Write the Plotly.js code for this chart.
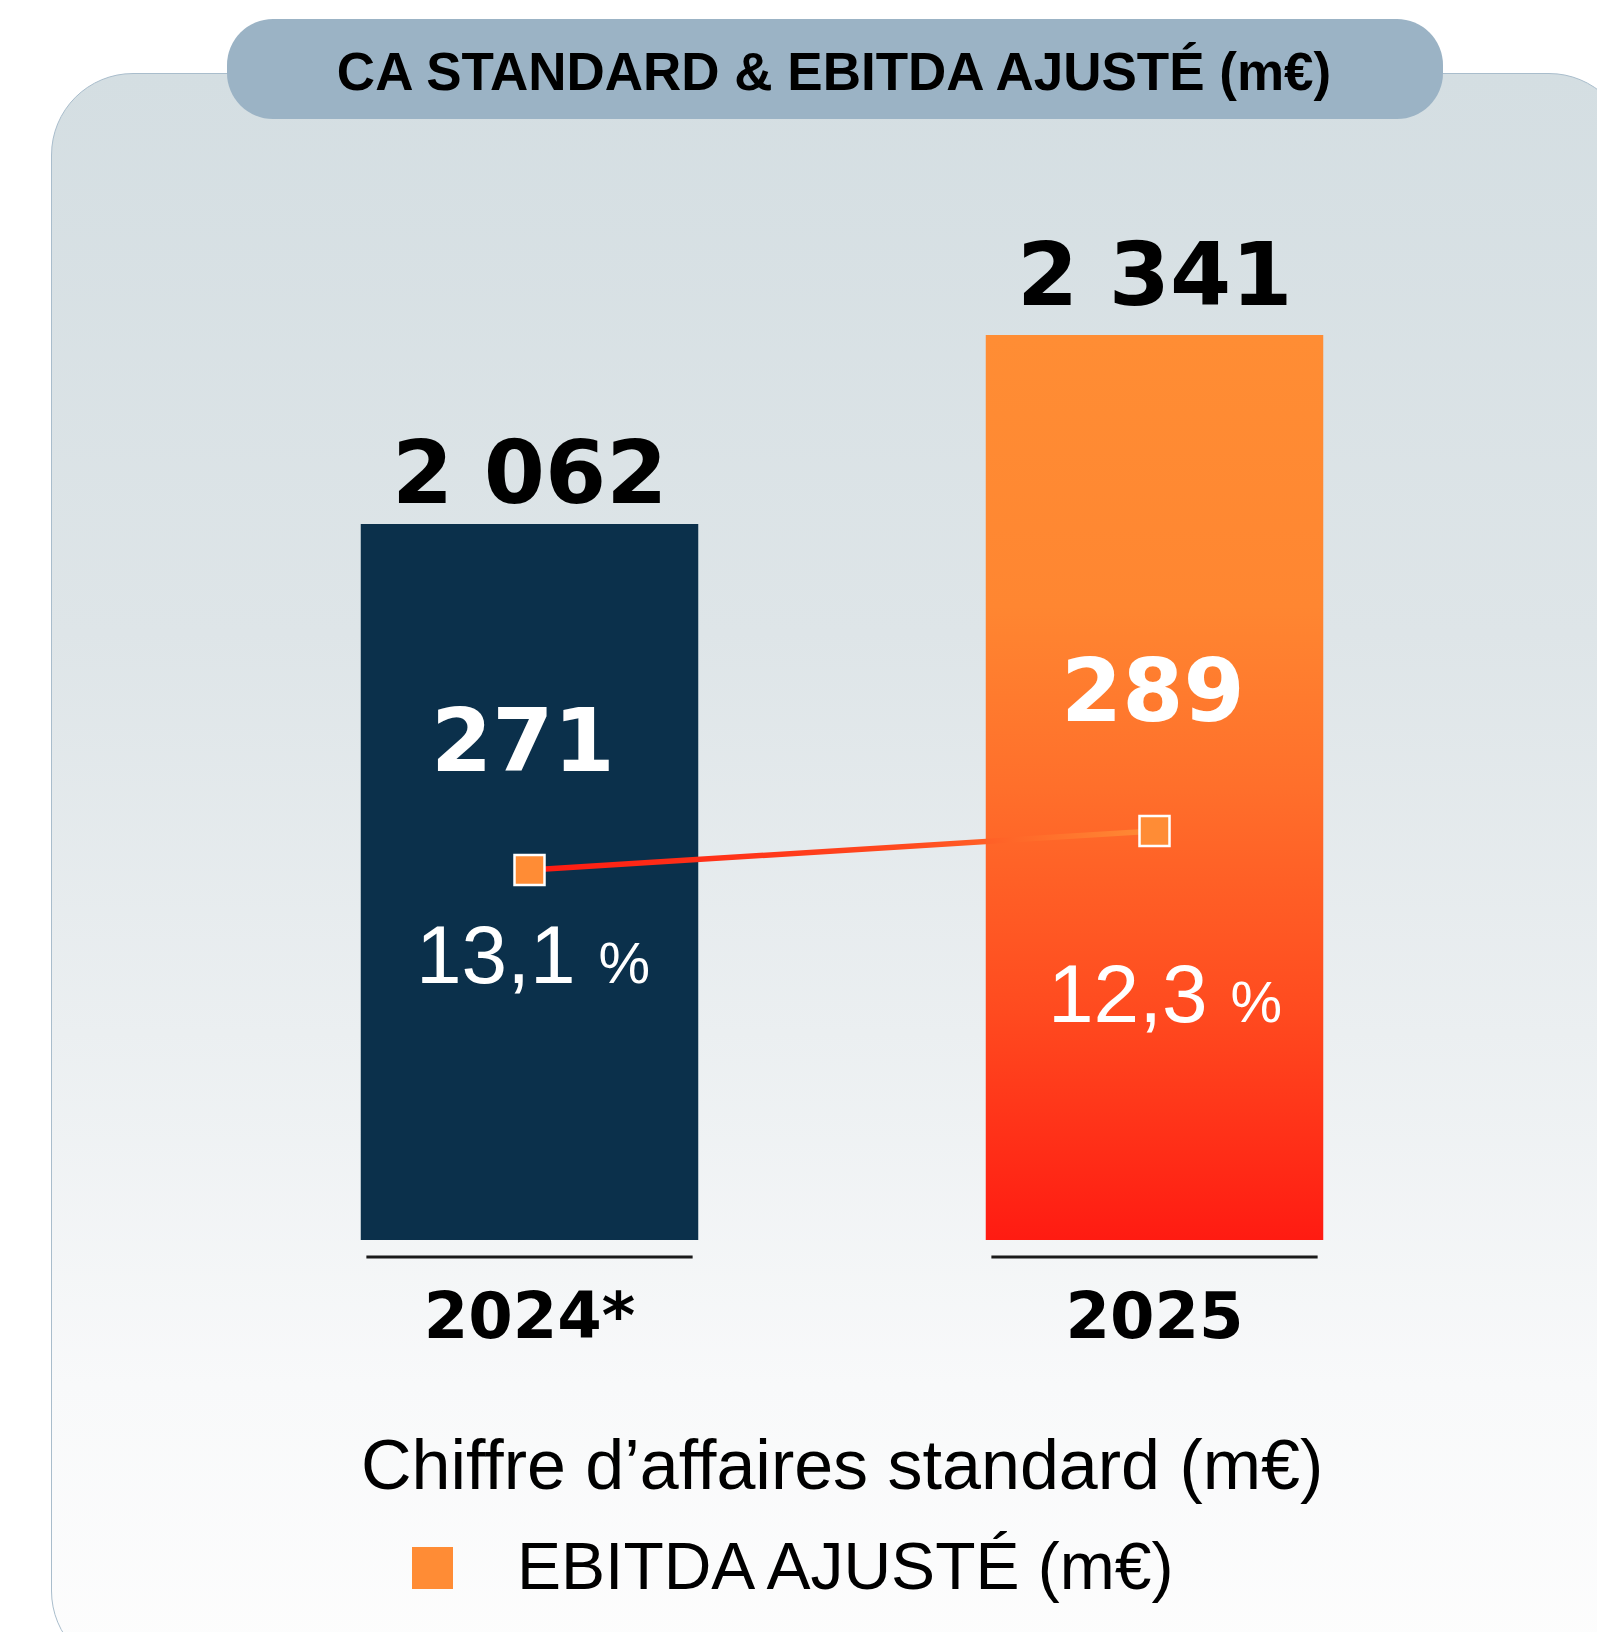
<!DOCTYPE html>
<html>
<head>
<meta charset="utf-8">
<script src="https://cdn.plot.ly/plotly-3.0.1.min.js"></script>
<style>
html,body{margin:0;padding:0;background:#ffffff;}
#wrap{position:relative;width:1597px;height:1632px;overflow:hidden;background:#ffffff;}
#panel{position:absolute;left:51px;top:73px;width:1580px;height:1600px;box-sizing:border-box;
  border:1.5px solid #a9bdcc;border-radius:82px;
  background:linear-gradient(to bottom,#d4dee2 0%,#dee5e8 35%,#ebeff1 60%,#f8f9fa 82%,#fdfdfd 100%);}
#pill{position:absolute;left:227px;top:19px;width:1216px;height:100px;border-radius:46px;background:#9bb3c5;}
#chart{position:absolute;left:0;top:0;width:1597px;height:1632px;}
</style>
</head>
<body>
<div id="wrap">
  <div id="panel"></div>
  <div id="pill"></div>
  <div id="chart"></div>
</div>
<script>
// ---------------- data ----------------
const categories = ['2024*', '2025'];
const revenue = [2062, 2341];          // Chiffre d'affaires standard (m€)
const ebitda = [271, 289];             // EBITDA ajusté (m€)
const margin = [13.1, 12.3];           // marge EBITDA (%)
const titleText = 'CA STANDARD & EBITDA AJUSTÉ (m€)';
const legendLabels = ['Chiffre d’affaires standard (m€)', 'EBITDA AJUSTÉ (m€)'];

// ---------------- styles ----------------
const NAVY = '#0b304b';
const ORANGE = '#ff8c35';
const barColors = [NAVY, '#ff7a2d'];
const barGradStops = [[0, '#ff8d34'], [0.3, '#ff8631'], [0.5, '#ff6f2b'], [0.75, '#ff4a1f'], [1, '#ff1b12']];
const lineGradStops = [[0, '#ff1a12'], [0.6, '#ff4a1f'], [1, '#ff8c35']];
const BOLD_NUM = 'DejaVu Sans, sans-serif';
const SANS = 'Liberation Sans, Arial, sans-serif';
const valueLabelShift = [52, 61];     // px above bar top
const ebitdaLabelShift = [129, 140];  // px above marker
const ebitdaLabelX = [-7, -2];
const marginLabelShift = [-85, -163]; // px below marker
const marginLabelX = [3, 10];

// plot geometry (pixels)
const W = 1597, H = 1632, ML = 217, MR = 130, MT = 200, MB = 392;
const PW = W - ML - MR, PH = H - MT - MB;
const px2x = p => (p - ML) / PW;
const px2y = p => (H - MB - p) / PH;

const fmtThousands = v => String(v).replace(/\B(?=(\d{3})+(?!\d))/g, '\u00a0');
const fmtPct = v => v.toFixed(1).replace('.', ',');

const barTrace = {
  type: 'bar',
  name: legendLabels[0],
  x: categories,
  y: revenue,
  width: 0.54,
  marker: {color: barColors, line: {width: 0}},
  hoverinfo: 'skip',
  showlegend: false
};
const lineTrace = {
  type: 'scatter',
  name: legendLabels[1],
  x: categories,
  y: ebitda,
  yaxis: 'y2',
  mode: 'lines+markers',
  line: {color: '#ff4a1f', width: 5.5},
  marker: {symbol: 'square', size: 30, color: ORANGE, line: {color: '#ffffff', width: 2.5}},
  hoverinfo: 'skip',
  showlegend: false
};

const annotations = [];
categories.forEach((c, i) => {
  // category axis: annotation x given as category index
  annotations.push({
    x: i, y: revenue[i], xref: 'x', yref: 'y',
    text: fmtThousands(revenue[i]), showarrow: false,
    yanchor: 'middle', yshift: valueLabelShift[i],
    font: {family: BOLD_NUM, size: 88, color: '#000000', weight: 700}
  });
  annotations.push({
    x: i, y: ebitda[i], xref: 'x', yref: 'y2',
    text: String(ebitda[i]), showarrow: false,
    yanchor: 'middle', yshift: ebitdaLabelShift[i], xshift: ebitdaLabelX[i],
    font: {family: BOLD_NUM, size: 88, color: '#ffffff', weight: 700}
  });
  annotations.push({
    x: i, y: ebitda[i], xref: 'x', yref: 'y2',
    text: fmtPct(margin[i]) + ' <span style="font-size:58px">%</span>', showarrow: false,
    yanchor: 'middle', yshift: marginLabelShift[i], xshift: marginLabelX[i],
    font: {family: SANS, size: 82, color: '#ffffff'}
  });
});
// legend texts
annotations.push({
  x: px2x(842), y: px2y(1465), xref: 'paper', yref: 'paper',
  text: legendLabels[0], showarrow: false, xanchor: 'center', yanchor: 'middle',
  font: {family: SANS, size: 70, color: '#000000'}
});
annotations.push({
  x: px2x(515), y: px2y(1566), xref: 'paper', yref: 'paper',
  text: legendLabels[1], showarrow: false, xanchor: 'left', yanchor: 'middle',
  font: {family: SANS, size: 66, color: '#000000'}
});

const shapes = [];
categories.forEach((c, i) => {
  shapes.push({type: 'line', xref: 'x', yref: 'paper', x0: i - 0.261, x1: i + 0.261,
    y0: px2y(1257), y1: px2y(1257), line: {color: '#1a1a1a', width: 3}});
});
shapes.push({type: 'rect', xref: 'paper', yref: 'paper',
  x0: px2x(412), x1: px2x(453), y0: px2y(1589), y1: px2y(1547),
  fillcolor: ORANGE, line: {width: 0}});

const layout = {
  width: W, height: H,
  margin: {l: ML, r: MR, t: MT, b: MB, pad: 0},
  paper_bgcolor: 'rgba(0,0,0,0)',
  plot_bgcolor: 'rgba(0,0,0,0)',
  showlegend: false,
  title: {
    text: titleText,
    font: {family: SANS, size: 53, color: '#000000', weight: 700},
    x: 834 / W, xref: 'container', xanchor: 'center',
    y: 1 - 71 / H, yref: 'container', yanchor: 'middle'
  },
  xaxis: {
    type: 'category', range: [-0.5, 1.5],
    showgrid: false, zeroline: false, showline: false, ticks: '',
    ticklabelstandoff: 33,
    tickfont: {family: BOLD_NUM, size: 64, color: '#000000', weight: 700},
    fixedrange: true
  },
  yaxis: {range: [1005, 2540.3], visible: false, showgrid: false, zeroline: false, fixedrange: true},
  yaxis2: {range: [100.2, 580.2], overlaying: 'y', visible: false, showgrid: false, zeroline: false, fixedrange: true},
  annotations: annotations,
  shapes: shapes
};

Plotly.newPlot('chart', [barTrace, lineTrace], layout, {staticPlot: true, displayModeBar: false}).then(gd => {
  const ns = 'http://www.w3.org/2000/svg';
  const svg = gd.querySelector('svg.main-svg');
  let defs = svg.querySelector('defs');
  if (!defs) { defs = document.createElementNS(ns, 'defs'); svg.insertBefore(defs, svg.firstChild); }
  function addGrad(id, coords, stops, units) {
    const g = document.createElementNS(ns, 'linearGradient');
    g.setAttribute('id', id);
    if (units) g.setAttribute('gradientUnits', units);
    Object.keys(coords).forEach(k => g.setAttribute(k, String(coords[k])));
    stops.forEach(([o, c]) => {
      const s = document.createElementNS(ns, 'stop');
      s.setAttribute('offset', String(o));
      s.setAttribute('stop-color', c);
      g.appendChild(s);
    });
    defs.appendChild(g);
  }
  const bars = gd.querySelectorAll('.barlayer .point path');
  if (bars[1]) {
    // gradient over the visible part of the bar (from its top to the bottom of the plot area)
    const bb = bars[1].getBBox();
    const plotH = gd._fullLayout._size.h;
    addGrad('barGradOrange', {x1: 0, y1: bb.y, x2: 0, y2: plotH}, barGradStops, 'userSpaceOnUse');
    bars[1].style.fill = 'url(#barGradOrange)';
  }
  addGrad('lineGradEbitda', {x1: 0, y1: 0, x2: 1, y2: 0}, lineGradStops);
  const ln = gd.querySelector('.scatterlayer .js-line');
  if (ln) ln.style.stroke = 'url(#lineGradEbitda)';
});
</script>
</body>
</html>
